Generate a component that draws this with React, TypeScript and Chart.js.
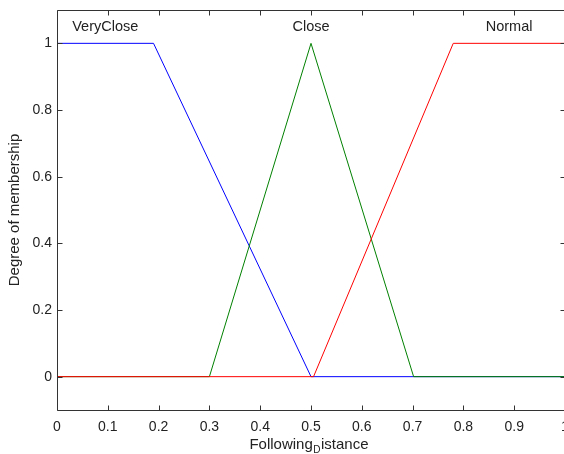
import React, { useEffect, useRef } from "react";
import { Chart, registerables } from "chart.js";

Chart.register(...registerables);

const mfNames = ["VeryClose", "Close", "Normal"];
const mfColors = ["#0000ff", "#008000", "#ff0000"];
const veryCloseX = [0, 0.19, 0.5, 1];
const veryCloseY = [1, 1, 0, 0];
const closeX = [0, 0.3, 0.5, 0.702, 1];
const closeY = [0, 0, 1, 0, 0];
const normalX = [0, 0.505, 0.78, 1];
const normalY = [0, 0, 1, 1];
const xTicks = [0, 0.1, 0.2, 0.3, 0.4, 0.5, 0.6, 0.7, 0.8, 0.9, 1];
const yTicks = [0, 0.2, 0.4, 0.6, 0.8, 1];
const yTitle = "Degree of membership";
const xTitleParts = ["Following", "D", "istance"];

const mfX = [veryCloseX, closeX, normalX];
const mfY = [veryCloseY, closeY, normalY];

function peakCenter(xs: number[], ys: number[]) {
  const p = xs.filter((_, i) => ys[i] === 1);
  return (Math.min(...p) + Math.max(...p)) / 2;
}

const FONT = "'Liberation Sans', Arial, sans-serif";

export default function App() {
  const ref = useRef<HTMLCanvasElement | null>(null);
  useEffect(() => {
    if (!ref.current) return;
    const datasets = [2, 1, 0].map((k) => ({
      label: mfNames[k],
      data: mfX[k].map((x, i) => ({ x, y: mfY[k][i] })),
      borderColor: mfColors[k],
      backgroundColor: mfColors[k],
      borderWidth: 1,
      pointRadius: 0,
      tension: 0,
      fill: false,
    }));
    const boxPlugin = {
      id: "box",
      afterDraw(chart: any) {
        const { ctx, chartArea } = chart;
        const xs = chart.scales.x;
        const ys = chart.scales.y;
        const r = (v: number) => Math.round(v) + 0.5;
        const L = r(chartArea.left), R = r(chartArea.right), T = r(chartArea.top), B = r(chartArea.bottom);
        ctx.save();
        ctx.strokeStyle = "#333";
        ctx.lineWidth = 1;
        ctx.beginPath();
        ctx.rect(L, T, R - L, B - T);
        xTicks.forEach((v) => {
          const px = r(xs.getPixelForValue(v));
          ctx.moveTo(px, B); ctx.lineTo(px, B - 5);
          ctx.moveTo(px, T); ctx.lineTo(px, T + 5);
        });
        yTicks.forEach((v) => {
          const py = r(ys.getPixelForValue(v));
          ctx.moveTo(L, py); ctx.lineTo(L + 5, py);
          ctx.moveTo(R, py); ctx.lineTo(R - 5, py);
        });
        ctx.stroke();
        // MF labels
        ctx.fillStyle = "#222";
        ctx.font = `14.5px ${FONT}`;
        ctx.textAlign = "center";
        ctx.textBaseline = "middle";
        mfNames.forEach((n, k) => {
          const cx = xs.getPixelForValue(peakCenter(mfX[k], mfY[k]));
          ctx.fillText(n, cx, ys.getPixelForValue(1.05));
        });
        // x title with subscript
        ctx.textAlign = "left";
        ctx.textBaseline = "alphabetic";
        ctx.font = `15px ${FONT}`;
        const w1 = ctx.measureText(xTitleParts[0]).width;
        const w3 = ctx.measureText(xTitleParts[2]).width;
        ctx.font = `10px ${FONT}`;
        const w2 = ctx.measureText(xTitleParts[1]).width;
        const total = w1 + w2 + w3 + 1;
        const cx = (chartArea.left + chartArea.right) / 2 - 2;
        let x0 = cx - total / 2;
        const base = 449;
        ctx.font = `15px ${FONT}`;
        ctx.fillText(xTitleParts[0], x0, base);
        x0 += w1 + 0.5;
        ctx.font = `10px ${FONT}`;
        ctx.fillText(xTitleParts[1], x0, base + 4);
        x0 += w2 + 0.5;
        ctx.font = `15px ${FONT}`;
        ctx.fillText(xTitleParts[2], x0, base);
        ctx.restore();
      },
    };
    const chart = new Chart(ref.current, {
      type: "line",
      data: { datasets },
      plugins: [boxPlugin],
      options: {
        animation: false,
        responsive: false,
        events: [],
        layout: { padding: { top: 10, right: 10, left: 0, bottom: 0 } },
        plugins: { legend: { display: false }, tooltip: { enabled: false } },
        scales: {
          x: {
            type: "linear",
            min: 0,
            max: 1,
            grid: { display: false, drawTicks: false },
            border: { display: false },
            afterFit: (s: any) => { s.height = 44; s.paddingLeft = 0; s.paddingRight = 0; },
            afterBuildTicks: (s: any) => { s.ticks = xTicks.map((value) => ({ value })); },
            ticks: {
              padding: 9,
              color: "#222",
              font: { size: 14, family: FONT },
              maxRotation: 0,
              autoSkip: false,
              callback: (v: any) => String(Math.round(Number(v) * 10) / 10),
            },
          },
          y: {
            type: "linear",
            min: -0.1,
            max: 1.1,
            grid: { display: false, drawTicks: false },
            border: { display: false },
            afterFit: (s: any) => { s.width = 57; s.paddingTop = 0; s.paddingBottom = 0; },
            afterBuildTicks: (s: any) => { s.ticks = yTicks.map((value) => ({ value })); },
            title: {
              display: true,
              text: yTitle,
              color: "#222",
              font: { size: 15, family: FONT },
              padding: { top: 6, bottom: 0 },
            },
            ticks: {
              padding: 5,
              color: "#222",
              font: { size: 14, family: FONT },
              autoSkip: false,
              callback: (v: any) => String(Math.round(Number(v) * 10) / 10),
            },
          },
        },
      },
    });
    return () => chart.destroy();
  }, []);
  return (
    <div style={{ position: "absolute", left: 0, top: 0, width: 564, height: 454, overflow: "hidden", background: "#fff" }}>
      <canvas ref={ref} width={575} height={454} style={{ display: "block" }} />
    </div>
  );
}
